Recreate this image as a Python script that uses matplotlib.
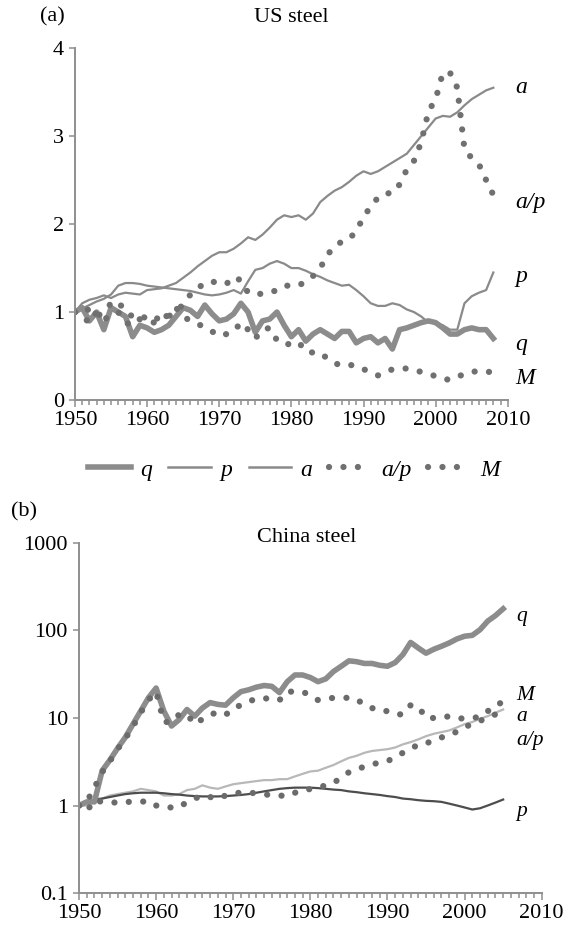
"""Steel output, price and productivity indices for the US and China (1950 = 1)."""

import matplotlib.pyplot as plt
import numpy as np
from matplotlib.lines import Line2D
from matplotlib.ticker import FixedLocator, MultipleLocator, NullLocator

plt.rcParams["font.family"] = ["Liberation Serif", "DejaVu Serif"]

# ---- US steel, 1950-2008 ----
us_years = np.arange(1950, 2009)
us_q = [1.00, 1.05, 0.90, 1.00, 0.80, 1.05, 1.00, 0.95, 0.72, 0.85,
        0.82, 0.77, 0.80, 0.85, 0.95, 1.05, 1.02, 0.95, 1.08, 0.98,
        0.90, 0.92, 0.98, 1.10, 1.00, 0.77, 0.90, 0.92, 1.00, 0.85,
        0.72, 0.80, 0.67, 0.75, 0.80, 0.75, 0.70, 0.78, 0.78, 0.65,
        0.70, 0.72, 0.65, 0.70, 0.58, 0.80, 0.82, 0.85, 0.88, 0.90,
        0.88, 0.82, 0.75, 0.75, 0.80, 0.82, 0.80, 0.80, 0.70]
us_p = [1.00, 1.04, 1.08, 1.12, 1.15, 1.20, 1.30, 1.33, 1.33, 1.32,
        1.30, 1.29, 1.28, 1.27, 1.26, 1.25, 1.24, 1.22, 1.20, 1.19,
        1.20, 1.22, 1.25, 1.21, 1.35, 1.48, 1.50, 1.55, 1.58, 1.55,
        1.50, 1.50, 1.47, 1.43, 1.40, 1.36, 1.33, 1.30, 1.31, 1.25,
        1.18, 1.10, 1.07, 1.07, 1.10, 1.08, 1.03, 1.00, 0.95, 0.88,
        0.88, 0.85, 0.80, 0.80, 1.10, 1.18, 1.22, 1.25, 1.45]
us_a = [1.00, 1.10, 1.14, 1.16, 1.19, 1.16, 1.20, 1.22, 1.21, 1.20,
        1.25, 1.26, 1.27, 1.30, 1.33, 1.39, 1.45, 1.52, 1.58, 1.64,
        1.68, 1.68, 1.72, 1.78, 1.85, 1.82, 1.88, 1.96, 2.05, 2.10,
        2.08, 2.10, 2.05, 2.12, 2.25, 2.32, 2.38, 2.42, 2.48, 2.55,
        2.60, 2.57, 2.60, 2.65, 2.70, 2.75, 2.80, 2.90, 3.00, 3.10,
        3.20, 3.23, 3.22, 3.27, 3.35, 3.42, 3.47, 3.52, 3.55]
us_ap = [1.00, 1.05, 1.02, 0.95, 1.00, 1.10, 1.12, 1.00, 0.95, 0.97,
         0.92, 0.90, 0.97, 0.95, 1.02, 1.08, 1.20, 1.27, 1.33, 1.35,
         1.32, 1.32, 1.40, 1.36, 1.22, 1.20, 1.21, 1.22, 1.25, 1.30,
         1.30, 1.30, 1.35, 1.41, 1.50, 1.65, 1.75, 1.80, 1.83, 1.92,
         2.08, 2.20, 2.30, 2.35, 2.35, 2.45, 2.62, 2.72, 2.93, 3.28,
         3.42, 3.72, 3.72, 3.55, 2.85, 2.75, 2.68, 2.50, 2.33]
us_m = [1.00, 0.95, 0.88, 1.00, 0.92, 0.95, 1.00, 0.88, 0.85, 0.92,
        0.90, 0.88, 0.92, 0.97, 1.05, 0.95, 0.90, 0.87, 0.82, 0.78,
        0.73, 0.75, 0.78, 0.88, 0.80, 0.70, 0.80, 0.82, 0.68, 0.63,
        0.64, 0.66, 0.55, 0.54, 0.54, 0.47, 0.42, 0.39, 0.40, 0.39,
        0.35, 0.32, 0.28, 0.31, 0.35, 0.35, 0.36, 0.34, 0.32, 0.30,
        0.27, 0.24, 0.23, 0.27, 0.29, 0.32, 0.33, 0.32, 0.32]

# ---- China steel, 1950-2005 ----
cn_years = np.arange(1950, 2006)
cn_q = [1.0, 1.1, 1.1, 2.5, 3.3, 4.5, 6.0, 8.5, 12.0, 17.0,
        22.0, 12.0, 8.1, 9.6, 12.5, 10.5, 13.0, 15.0, 14.3, 14.0,
        17.0, 20.0, 21.0, 22.5, 23.5, 23.0, 19.5, 26.0, 31.0, 31.0,
        29.0, 26.0, 28.0, 34.0, 39.0, 45.0, 44.0, 42.0, 42.0, 40.0,
        39.0, 43.0, 53.0, 73.0, 63.0, 55.0, 61.0, 66.0, 72.0, 80.0,
        86.0, 88.0, 102.0, 128.0, 148.0, 177.0]
cn_p = [1.00, 1.10, 1.15, 1.20, 1.25, 1.30, 1.35, 1.38, 1.40, 1.40,
        1.40, 1.38, 1.35, 1.33, 1.30, 1.28, 1.27, 1.27, 1.27, 1.28,
        1.30, 1.32, 1.35, 1.40, 1.45, 1.50, 1.55, 1.58, 1.60, 1.60,
        1.60, 1.58, 1.55, 1.52, 1.50, 1.45, 1.42, 1.38, 1.35, 1.32,
        1.28, 1.25, 1.20, 1.18, 1.15, 1.13, 1.12, 1.10, 1.05, 1.00,
        0.95, 0.90, 0.93, 1.00, 1.08, 1.17]
cn_a = [1.00, 1.00, 1.20, 1.20, 1.30, 1.35, 1.40, 1.45, 1.55, 1.50,
        1.45, 1.30, 1.30, 1.35, 1.50, 1.55, 1.70, 1.60, 1.55, 1.65,
        1.75, 1.80, 1.85, 1.90, 1.95, 1.95, 2.00, 2.00, 2.15, 2.30,
        2.45, 2.50, 2.70, 2.90, 3.20, 3.50, 3.70, 4.00, 4.20, 4.30,
        4.40, 4.60, 5.00, 5.30, 5.70, 6.20, 6.60, 6.90, 7.20, 7.80,
        8.50, 9.00, 9.80, 10.5, 11.5, 12.5]
cn_ap = [1.00, 0.86, 1.15, 1.10, 1.10, 1.07, 1.10, 1.10, 1.10, 1.13,
         1.00, 0.95, 0.95, 0.95, 1.10, 1.20, 1.30, 1.25, 1.20, 1.30,
         1.38, 1.40, 1.40, 1.38, 1.35, 1.30, 1.30, 1.28, 1.40, 1.45,
         1.55, 1.60, 1.70, 1.80, 2.10, 2.40, 2.55, 2.80, 2.95, 3.10,
         3.20, 3.60, 4.00, 4.40, 5.00, 5.10, 5.60, 6.00, 6.30, 7.00,
         7.90, 8.50, 9.30, 10.0, 11.0, 11.0]
cn_m = [1.0, 1.1, 1.6, 2.4, 3.2, 4.4, 5.8, 8.0, 11.5, 16.0,
        20.0, 9.0, 9.0, 11.0, 11.0, 8.5, 9.7, 11.0, 11.5, 10.8,
        13.0, 14.0, 15.5, 16.5, 17.0, 16.0, 16.0, 20.0, 20.0, 20.0,
        18.0, 16.0, 16.5, 17.0, 17.0, 17.0, 16.5, 14.0, 13.0, 12.0,
        12.0, 11.0, 11.0, 14.0, 13.5, 10.0, 10.0, 10.0, 10.5, 10.0,
        9.8, 10.0, 10.3, 12.0, 13.0, 16.0]

series_names = ["q", "p", "a", "a/p", "M"]

DOT = (0, (0.01, 2.3))
AXIS_GREY = "#8e8e8e"


def style_axis(ax):
    for side in ("top", "right"):
        ax.spines[side].set_visible(False)
    for side in ("left", "bottom"):
        ax.spines[side].set_color(AXIS_GREY)
        ax.spines[side].set_linewidth(1.4)
    ax.set_xlim(1950, 2010)
    ax.xaxis.set_major_locator(MultipleLocator(10))
    ax.xaxis.set_minor_locator(MultipleLocator(1))
    ax.tick_params(axis="both", which="both", direction="out", color=AXIS_GREY,
                   labelsize=16, width=1.1)
    ax.tick_params(axis="x", which="major", length=5, pad=3)
    ax.tick_params(axis="x", which="minor", length=3.5)
    ax.tick_params(axis="y", which="major", length=4, pad=4)
    ax.patch.set_alpha(0)


fig = plt.figure(figsize=(5.65, 9.31), dpi=100)

# ---- (a) US ----
ax1 = fig.add_axes([0.1327, 0.5703, 0.766, 0.378])
style_axis(ax1)
ax1.set_ylim(0, 4)
ax1.yaxis.set_major_locator(MultipleLocator(1))

ax1.plot(us_years, us_p, color="#8a8a8a", lw=1.6)
ax1.plot(us_years, us_a, color="#8a8a8a", lw=1.6)
ax1.plot(us_years, us_q, color="#8c8c8c", lw=4.0, solid_joinstyle="round")
ax1.plot(us_years, us_ap, color="#707070", lw=4.5, linestyle=DOT, dash_capstyle="round")
ax1.plot(us_years, us_m, color="#707070", lw=4.5, linestyle=DOT, dash_capstyle="round")

us_label_y = {"a": 3.55, "a/p": 2.25, "p": 1.40, "q": 0.63, "M": 0.25}
for name, yv in us_label_y.items():
    ax1.text(2011.1, yv, name, fontsize=17, style="italic", va="center", ha="left",
             clip_on=False)

fig.text(40 / 565, 1 - 17 / 931, "(a)", fontsize=16, va="center", ha="left")
fig.text(291 / 565, 1 - 17 / 931, "US steel", fontsize=16, va="center", ha="center")

# legend between the panels
styles = {
    "q": dict(color="#8c8c8c", lw=4.0),
    "p": dict(color="#8a8a8a", lw=1.8),
    "a": dict(color="#8a8a8a", lw=1.8),
    "a/p": dict(color="#707070", lw=4.5, linestyle=DOT, dash_capstyle="round"),
    "M": dict(color="#707070", lw=4.5, linestyle=DOT, dash_capstyle="round"),
}
handles = [Line2D([], [], **styles[n]) for n in series_names]
fig.legend(handles, series_names, loc="center", bbox_to_anchor=(0.52, 1 - 470 / 931),
           ncol=5, frameon=False, handlelength=1.8, handletextpad=0.4,
           columnspacing=0.7, borderpad=0.2,
           prop={"family": "Liberation Serif", "style": "italic", "size": 17})

# ---- (b) China, log scale ----
ax2 = fig.add_axes([0.1398, 0.0408, 0.819, 0.376])
style_axis(ax2)
ax2.set_yscale("log")
ax2.set_ylim(0.1, 1000)
ax2.yaxis.set_major_locator(FixedLocator([0.1, 1, 10, 100, 1000]))
ax2.yaxis.set_minor_locator(NullLocator())
ax2.set_yticklabels(["0.1", "1", "10", "100", "1000"])

ax2.plot(cn_years, cn_a, color="#b8b8b8", lw=1.6)
ax2.plot(cn_years, cn_p, color="#4d4d4d", lw=1.6)
ax2.plot(cn_years, cn_q, color="#8c8c8c", lw=4.0, solid_joinstyle="round")
ax2.plot(cn_years, cn_ap, color="#6b6b6b", lw=4.5, linestyle=DOT, dash_capstyle="round")
ax2.plot(cn_years, cn_m, color="#6b6b6b", lw=4.5, linestyle=DOT, dash_capstyle="round")

cn_label_y = {"q": 146, "M": 18.0, "a": 10.3, "a/p": 5.5, "p": 0.86}
for name, yv in cn_label_y.items():
    ax2.text(2006.7, yv, name, fontsize=15.5, style="italic", va="center", ha="left",
             clip_on=False)

fig.text(11 / 565, 1 - 512 / 931, "(b)", fontsize=16, va="center", ha="left")
fig.text(307 / 565, 1 - 538 / 931, "China steel", fontsize=16, va="center", ha="center")

fig.savefig("out.png", dpi=100)
